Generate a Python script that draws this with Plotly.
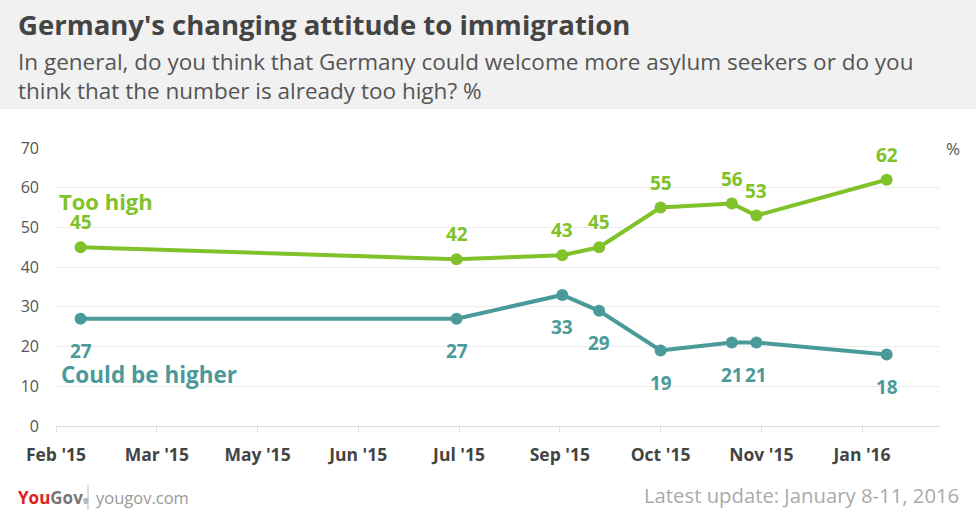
import plotly.graph_objects as go

# ---- data ----
survey_dates = ["2015-02-20", "2015-07-23", "2015-09-04", "2015-09-19",
                "2015-10-14", "2015-11-12", "2015-11-22", "2016-01-14"]
too_high = [45, 42, 43, 45, 55, 56, 53, 62]
could_be_higher = [27, 27, 33, 29, 19, 21, 21, 18]

tick_dates = ["2015-02-10", "2015-03-23", "2015-05-03", "2015-06-13", "2015-07-24",
              "2015-09-03", "2015-10-14", "2015-11-24", "2016-01-04"]
tick_labels = ["Feb '15", "Mar '15", "May '15", "Jun '15", "Jul '15",
               "Sep '15", "Oct '15", "Nov '15", "Jan '16"]
y_ticks = [0, 10, 20, 30, 40, 50, 60, 70]

GREEN = "#7fc22a"
TEAL = "#4b9a9a"
FONT = "Open Sans"

W, H = 976, 523
L, R, T, B = 56, 36, 148, 97
PW, PH = W - L - R, H - T - B


def px(x):
    return (x - L) / PW


def py(y):
    return (H - B - y) / PH


fig = go.Figure()
fig.add_trace(go.Scatter(x=survey_dates, y=too_high, mode="lines+markers",
                         line=dict(color=GREEN, width=4),
                         marker=dict(color=GREEN, size=12),
                         name="Too high", showlegend=False, hoverinfo="skip"))
fig.add_trace(go.Scatter(x=survey_dates, y=could_be_higher, mode="lines+markers",
                         line=dict(color=TEAL, width=4),
                         marker=dict(color=TEAL, size=12),
                         name="Could be higher", showlegend=False, hoverinfo="skip"))

ann = []
for d, v in zip(survey_dates, too_high):
    ann.append(dict(x=d, y=v, xref="x", yref="y", text=str(v), showarrow=False,
                    yshift=25, font=dict(family=FONT, size=19, color=GREEN, weight="bold")))
for d, v in zip(survey_dates, could_be_higher):
    ann.append(dict(x=d, y=v, xref="x", yref="y", text=str(v), showarrow=False,
                    yshift=-32, font=dict(family=FONT, size=19, color=TEAL, weight="bold")))

ann.append(dict(x=px(57), y=py(201), xref="paper", yref="paper", text="Too high",
                showarrow=False, xanchor="left", yanchor="middle",
                font=dict(family=FONT, size=22, color=GREEN, weight="bold")))
ann.append(dict(x=px(59), y=py(374), xref="paper", yref="paper", text="Could be higher",
                showarrow=False, xanchor="left", yanchor="middle",
                font=dict(family=FONT, size=22.5, color=TEAL, weight="bold")))
ann.append(dict(x=px(953), y=py(148), xref="paper", yref="paper", text="%",
                showarrow=False, xanchor="center", yanchor="middle",
                font=dict(family=FONT, size=17, color="#555")))

# header
ann.append(dict(x=px(16), y=py(24), xref="paper", yref="paper",
                text="Germany's changing attitude to immigration",
                showarrow=False, xanchor="left", yanchor="middle",
                font=dict(family=FONT, size=27.5, color="#444", weight="bold")))
ann.append(dict(x=px(16), y=py(62), xref="paper", yref="paper",
                text="In general, do you think that Germany could welcome more asylum seekers or do you",
                showarrow=False, xanchor="left", yanchor="middle",
                font=dict(family=FONT, size=22.5, color="#555")))
ann.append(dict(x=px(16), y=py(90), xref="paper", yref="paper",
                text="think that the number is already too high? %",
                showarrow=False, xanchor="left", yanchor="middle",
                font=dict(family=FONT, size=22.5, color="#555")))

# footer
ann.append(dict(x=px(16), y=py(497), xref="paper", yref="paper",
                text="<span style='color:#e0201b'>You</span><span style='color:#777'>Gov</span>"
                     "<span style='font-size:7px'>®</span>",
                showarrow=False, xanchor="left", yanchor="middle",
                font=dict(family=FONT, size=17, color="#777", weight="bold")))
ann.append(dict(x=px(94), y=py(497), xref="paper", yref="paper", text="yougov.com",
                showarrow=False, xanchor="left", yanchor="middle",
                font=dict(family=FONT, size=16.5, color="#999")))
ann.append(dict(x=px(961), y=py(495), xref="paper", yref="paper",
                text="Latest update: January 8-11, 2016",
                showarrow=False, xanchor="right", yanchor="middle",
                font=dict(family=FONT, size=20.3, color="#aaa")))

shapes = [
    dict(type="rect", xref="paper", yref="paper", x0=px(0), x1=px(W), y0=py(0), y1=py(109),
         fillcolor="#f1f1f1", line=dict(width=0), layer="below"),
    dict(type="line", xref="paper", yref="paper", x0=px(88), x1=px(88), y0=py(485), y1=py(510),
         line=dict(color="#bbb", width=1)),
]

fig.update_layout(
    width=W, height=H,
    margin=dict(l=L, r=R, t=T, b=B),
    paper_bgcolor="white", plot_bgcolor="white",
    annotations=ann, shapes=shapes,
    xaxis=dict(type="date", range=["2015-02-10", "2016-02-04 17:00"],
               tickvals=tick_dates, ticktext=tick_labels,
               showgrid=False, zeroline=False, showline=True, linecolor="#ddd", linewidth=1,
               ticks="outside", ticklen=5, tickcolor="#ddd", ticklabelstandoff=8,
               tickfont=dict(family=FONT, size=17.5, color="#444", weight="bold")),
    yaxis=dict(range=[0, 70], tickvals=y_ticks, showgrid=True, gridcolor="#eeeeee",
               zeroline=False, showline=False, ticks="", ticklabelstandoff=16,
               tickfont=dict(family=FONT, size=16, color="#555")),
)

fig.write_html("out.html", config={"displayModeBar": False},
               post_script="document.body.style.margin='0';")
